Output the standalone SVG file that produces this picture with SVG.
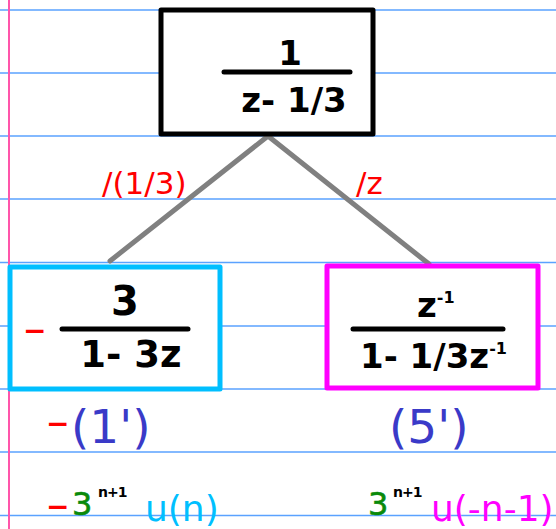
<svg xmlns="http://www.w3.org/2000/svg" width="556" height="529" viewBox="0 0 556 529">
<style>
.rule{stroke:#5aa2ff;stroke-width:1.5}
.hw{font-family:"DejaVu Sans",sans-serif;font-weight:bold;fill:#000}
.bar{stroke:#000;stroke-width:5;stroke-linecap:round}
.box{fill:#fff;stroke-width:5;stroke-linejoin:round}
.conn{stroke:#808080;stroke-width:5;stroke-linecap:round;fill:none}
.lbl{font-family:"DejaVu Sans",sans-serif;fill:#ff0000;font-size:31px}
.minus{font-family:"DejaVu Sans",sans-serif;font-weight:bold;fill:#ff0000;font-size:28px}
.ref{font-family:"DejaVu Sans",sans-serif;fill:#3a3ac8;font-size:47px}
.green{font-family:"DejaVu Sans",sans-serif;fill:#0a8a0a;stroke:#0a8a0a;stroke-width:0.6;font-size:32px}
.sup{font-family:"DejaVu Sans",sans-serif;font-weight:bold;fill:#000;font-size:14px;letter-spacing:-1px}
.u{font-family:"DejaVu Sans",sans-serif;font-size:36px}
</style>
<rect width="556" height="529" fill="#fff"/>
<g id="paper">
<line class="rule" x1="0" y1="10" x2="556" y2="10"/>
<line class="rule" x1="0" y1="73" x2="556" y2="73"/>
<line class="rule" x1="0" y1="136" x2="556" y2="136"/>
<line class="rule" x1="0" y1="199" x2="556" y2="199"/>
<line class="rule" x1="0" y1="262.5" x2="556" y2="262.5"/>
<line class="rule" x1="0" y1="326" x2="556" y2="326"/>
<line class="rule" x1="0" y1="389" x2="556" y2="389"/>
<line class="rule" x1="0" y1="452" x2="556" y2="452"/>
<line class="rule" x1="0" y1="515.5" x2="556" y2="515.5"/>
<line x1="9" y1="0" x2="9" y2="529" stroke="#ff55aa" stroke-width="2"/>
</g>
<g id="connectors">
<line class="conn" x1="268" y1="136" x2="110" y2="261"/>
<line class="conn" x1="268" y1="136" x2="429" y2="264"/>
<text class="lbl" x="102" y="194">/(1/3)</text>
<text class="lbl" x="356" y="194">/z</text>
</g>
<g id="top">
<rect class="box" x="161" y="10" width="212" height="124" stroke="#000"/>
<text class="hw" x="290" y="65" font-size="34" text-anchor="middle">1</text>
<line class="bar" x1="224" y1="72" x2="350" y2="72"/>
<text class="hw" x="294" y="112" font-size="34" text-anchor="middle">z- 1/3</text>
</g>
<g id="left">
<rect class="box" x="10" y="267" width="210" height="122" stroke="#00bfff"/>
<text class="minus" x="23" y="340">−</text>
<text class="hw" x="125" y="315" font-size="40" text-anchor="middle">3</text>
<line class="bar" x1="62" y1="329" x2="188" y2="329"/>
<text class="hw" x="131" y="367" font-size="37" text-anchor="middle">1- 3z</text>
</g>
<g id="right">
<rect class="box" x="327" y="266" width="211" height="122" stroke="#ff00ff"/>
<text class="hw" x="417" y="317" font-size="34">z<tspan font-size="16" dy="-14">-1</tspan></text>
<line class="bar" x1="353" y1="329" x2="503" y2="329"/>
<text class="hw" x="360" y="368" font-size="34">1- 1/3z<tspan font-size="16" dy="-14">-1</tspan></text>
</g>
<g id="results">
<text class="minus" x="46" y="433">−</text>
<text class="ref" x="71" y="443">(1')</text>
<text class="ref" x="389" y="443">(5')</text>
<text class="minus" x="46" y="516">−</text>
<text class="green" x="72" y="515">3</text>
<text class="sup" x="98" y="497">n+1</text>
<text class="u" x="145" y="521" fill="#00bfff">u(n)</text>
<text class="green" x="368" y="515">3</text>
<text class="sup" x="393" y="497">n+1</text>
<text class="u" x="431" y="521" fill="#ff00ff">u(-n-1)</text>
</g>
</svg>
